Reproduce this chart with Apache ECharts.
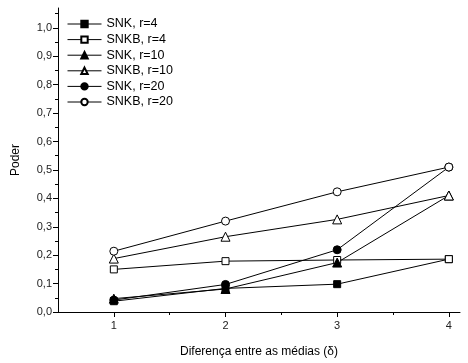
<!DOCTYPE html>
<html><head><meta charset="utf-8">
<script src="https://cdn.jsdelivr.net/npm/echarts@6/dist/echarts.min.js"></script>
<style>html,body{margin:0;padding:0;background:#fff}#c{width:468px;height:363px}</style>
</head><body><div id="c"></div>
<script>
const deltas = [1, 2, 3, 4];
const snk4   = [0.038, 0.083, 0.098, 0.186];
const snkb4  = [0.150, 0.179, 0.183, 0.186];
const snk10  = [0.047, 0.081, 0.174, 0.410];
const snkb10 = [0.188, 0.265, 0.326, 0.410];
const snk20  = [0.042, 0.097, 0.219, 0.510];
const snkb20 = [0.214, 0.320, 0.423, 0.510];
const yTicks = [0,0.1,0.2,0.3,0.4,0.5,0.6,0.7,0.8,0.9,1.0];
const yMinor = [0.05,0.15,0.25,0.35,0.45,0.55,0.65,0.75,0.85,0.95,1.05];
const xTicks = [1,2,3,4];
const xMinor = [1.5,2.5,3.5];

const font = 'Liberation Sans, Arial, sans-serif';
const pts = arr => arr.map((v,i)=>[deltas[i], v]);
function s(name, data, symbol, size, filled){
  return {name, type:'line', data:pts(data), symbol, symbolSize:size,
    xAxisIndex:0, yAxisIndex:0,
    lineStyle:{color:'#000', width:1},
    itemStyle:{color: filled ? '#000' : '#fff', borderColor:'#000', borderWidth:1},
    emphasis:{disabled:true}, animation:false};
}
const chart = echarts.init(document.getElementById('c'));
chart.setOption({
  animation:false,
  grid:{left:58, right:8, top:8, bottom:50},
  legend:{orient:'vertical', left:62, top:12, itemWidth:34, itemHeight:8, itemGap:1.6,
    lineStyle:{width:1},
    textStyle:{fontFamily:font, fontSize:12.5, color:'#000', lineHeight:14},
    data:['SNK, r=4','SNKB, r=4','SNK, r=10','SNKB, r=10','SNK, r=20','SNKB, r=20']},
  xAxis:[
    {type:'value', min:0.5, max:4.1, interval:0.5,
     name:'Diferença entre as médias (δ)', nameLocation:'middle', nameGap:34,
     nameTextStyle:{fontFamily:font, fontSize:12, color:'#000'},
     axisLine:{lineStyle:{color:'#000', width:1}},
     axisTick:{customValues:xTicks, length:5, lineStyle:{color:'#000'}},
     axisLabel:{customValues:xTicks, fontFamily:font, fontSize:11, color:'#222', margin:8},
     splitLine:{show:false}},
    {type:'value', min:0.5, max:4.1, position:'bottom',
     axisLine:{show:false},
     axisTick:{customValues:xMinor, length:3, lineStyle:{color:'#000'}},
     axisLabel:{show:false}, splitLine:{show:false}}
  ],
  yAxis:[
    {type:'value', min:0, max:1.07, interval:0.1,
     name:'Poder', nameLocation:'middle', nameGap:36, nameRotate:90,
     nameTextStyle:{fontFamily:font, fontSize:12, color:'#000'},
     axisLine:{show:true, lineStyle:{color:'#000', width:1}},
     axisTick:{show:true, customValues:yTicks, length:5, lineStyle:{color:'#000'}},
     axisLabel:{customValues:yTicks, fontFamily:font, fontSize:11, color:'#222', margin:6,
       formatter:v=>v.toFixed(1).replace('.',',')},
     splitLine:{show:false}},
    {type:'value', min:0, max:1.07, position:'left',
     axisLine:{show:false},
     axisTick:{show:true, customValues:yMinor, length:3, lineStyle:{color:'#000'}},
     axisLabel:{show:false}, splitLine:{show:false}}
  ],
  series:[
    s('SNK, r=4', snk4, 'rect', 7, true),
    s('SNKB, r=4', snkb4, 'rect', 7, false),
    s('SNK, r=10', snk10, 'triangle', 9, true),
    s('SNKB, r=10', snkb10, 'triangle', 9, false),
    s('SNK, r=20', snk20, 'circle', 8, true),
    s('SNKB, r=20', snkb20, 'circle', 8, false)
  ]
});
</script></body></html>
